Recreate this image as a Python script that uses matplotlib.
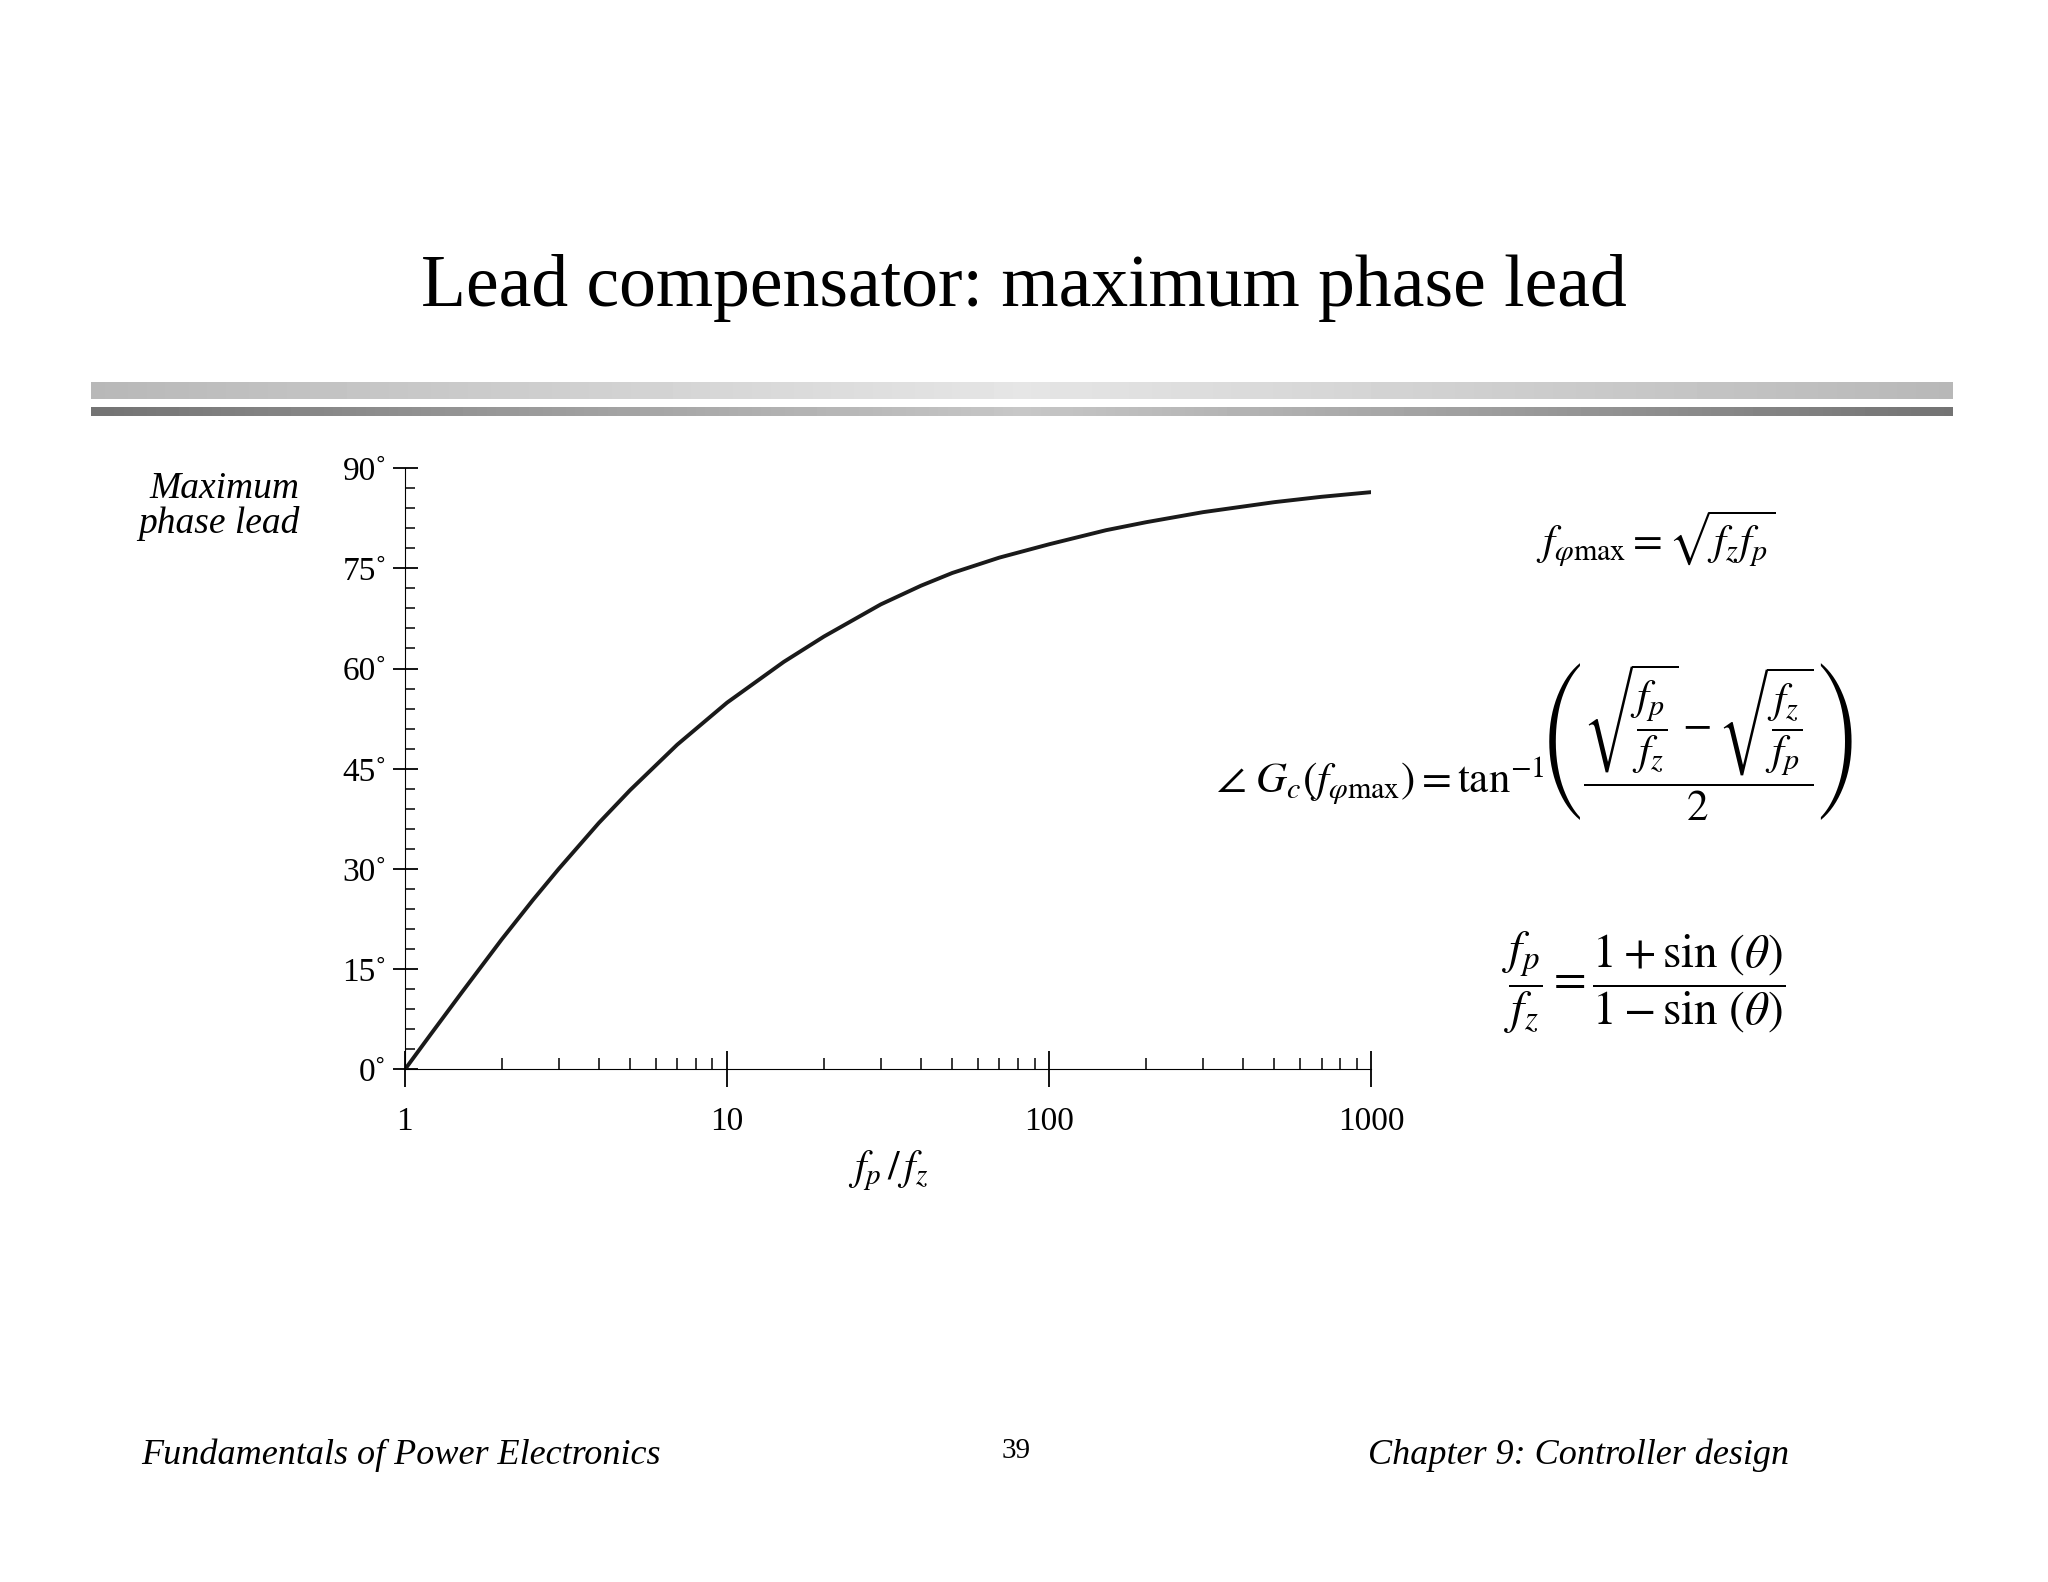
import matplotlib
matplotlib.use("Agg")
import matplotlib.pyplot as plt
import numpy as np
from matplotlib.ticker import FixedLocator, NullFormatter

plt.rcParams['font.family'] = ['Liberation Serif', 'DejaVu Serif']
plt.rcParams['mathtext.fontset'] = 'stix'

# Werte
ratio = [1, 1.2, 1.5, 2, 2.5, 3, 4, 5, 7, 10, 15, 20, 30, 40, 50, 70, 100, 150, 200, 300, 500, 700, 1000]
phase = [0, 5.2, 11.5, 19.5, 25.4, 30.0, 36.9, 41.8, 48.6, 54.9, 61.0, 64.8, 69.6, 72.4, 74.3, 76.6, 78.6, 80.7, 81.9, 83.4, 84.9, 85.7, 86.4]

W, H = 1568, 1210
fig = plt.figure(figsize=(20.48, 15.82), dpi=100)

# Titel
fig.text(0.5, 1 - 220 / H, "Lead compensator: maximum phase lead", ha="center", va="center", fontsize=53)

# Grauverlauf-Balken
grad = np.abs(np.linspace(-1, 1, 400))
for top, bot, lo, hi in [(292, 305, 0.9, 0.72), (311, 318, 0.78, 0.45)]:
    bx = fig.add_axes([70 / W, 1 - bot / H, (1495 - 70) / W, (bot - top) / H])
    vals = lo + (hi - lo) * grad
    bx.imshow(vals[None, :], aspect="auto", cmap="gray", vmin=0, vmax=1)
    bx.axis("off")

ax = fig.add_axes([310 / W, 1 - 818 / H, (1050 - 310) / W, (818 - 358) / H])
ax.plot(ratio, phase, color="#1a1a1a", lw=2.8)
ax.set_xscale("log")
ax.set_xlim(1, 1000)
ax.set_ylim(0, 90)
for s in ["top", "right"]:
    ax.spines[s].set_visible(False)
ax.spines["left"].set_bounds(0, 90)

ax.set_yticks(range(0, 91, 15))
ax.set_yticklabels([f"{v}˚" for v in range(0, 91, 15)], fontsize=24)
ax.yaxis.set_minor_locator(FixedLocator(range(0, 91, 3)))
ax.tick_params(axis="y", which="major", direction="inout", length=18, width=1.3, pad=4)
ax.tick_params(axis="y", which="minor", direction="in", length=7, width=1.1)

ax.set_xticks([1, 10, 100, 1000])
ax.set_xticklabels(["1", "10", "100", "1000"], fontsize=24)
ax.xaxis.set_minor_formatter(NullFormatter())
ax.tick_params(axis="x", which="major", direction="inout", length=26, width=1.3, pad=14)
ax.tick_params(axis="x", which="minor", direction="in", length=8, width=1.1)

ax.set_xlabel(r"$f_p\,/\,f_z$", fontsize=30, labelpad=8)
fig.text(229 / W, 1 - 387 / H, "Maximum\nphase lead", ha="right", va="center",
         fontsize=27, style="italic", linespacing=1.0)

# Gleichungen
fig.text(1268 / W, 1 - 412 / H, r"$f_{\varphi\mathrm{max}} = \sqrt{f_z f_p}$", ha="center", va="center", fontsize=31)
fig.text(1175 / W, 1 - 567 / H,
         r"$\angle\ G_c(f_{\varphi\mathrm{max}}) = \mathrm{tan}^{-1}\!\left(\dfrac{\sqrt{\dfrac{f_p}{f_z}}-\sqrt{\dfrac{f_z}{f_p}}}{2}\right)$",
         ha="center", va="center", fontsize=31)
fig.text(1258 / W, 1 - 752 / H,
         r"$\dfrac{f_p}{f_z} = \dfrac{1+\sin\,(\theta)}{1-\sin\,(\theta)}$",
         ha="center", va="center", fontsize=34)

# Fusszeile
fig.text(108 / W, 1 - 1113 / H, "Fundamentals of Power Electronics", ha="left", va="center", fontsize=26, style="italic")
fig.text(778 / W, 1 - 1110 / H, "39", ha="center", va="center", fontsize=21)
fig.text(1370 / W, 1 - 1113 / H, "Chapter 9: Controller design", ha="right", va="center", fontsize=26, style="italic")

fig.savefig("out.png", dpi=100, facecolor="white")
